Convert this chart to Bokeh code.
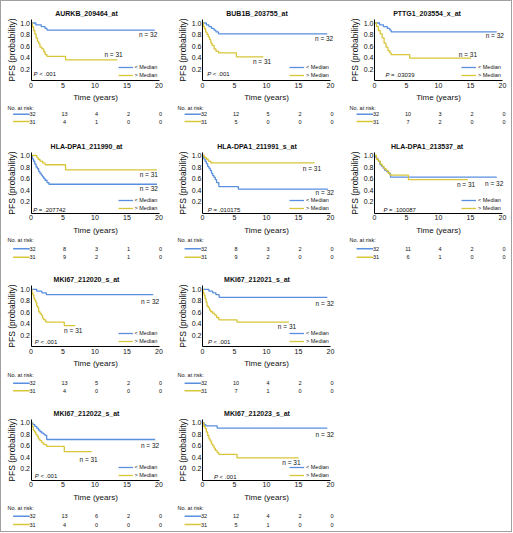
from bokeh.plotting import figure
from bokeh.models import Range1d, FixedTicker, NumeralTickFormatter, Label, Legend, LegendItem, Spacer, ColumnDataSource
from bokeh.layouts import row, column
from bokeh.embed import file_html
from bokeh.resources import INLINE
from bokeh.core.properties import value

FONT = "Liberation Sans"
BLUE = "#5a8fe0"
YELLOW = "#d8c53a"
TXT = "#111111"

# ---------------- data ----------------
titles = ["AURKB_209464_at", "BUB1B_203755_at", "PTTG1_203554_x_at",
          "HLA-DPA1_211990_at", "HLA-DPA1_211991_s_at", "HLA-DPA1_213537_at",
          "MKI67_212020_s_at", "MKI67_212021_s_at",
          "MKI67_212022_s_at", "MKI67_212023_s_at"]
p_values = ["< .001", "< .001", "= .03039", "= .207742", "= .010175", "= .100087",
            "< .001", "< .001", "< .001", "< .001"]
n_blue = [32] * 10
n_yellow = [31] * 10

blue_times = [
    [0, 0.75, 1.6, 2.2, 2.5, 19.35],
    [0, 0.6, 1.0, 1.4, 1.8, 2.1, 2.5, 19.5],
    [0, 0.8, 1.4, 2.0, 2.4, 2.6, 19.1],
    [0, 0.2, 0.4, 0.6, 0.8, 1.0, 1.2, 1.4, 1.6, 1.8, 2.0, 2.2, 2.5, 2.8, 19.7],
    [0, 0.2, 0.4, 0.6, 0.8, 1.0, 1.2, 1.4, 1.6, 1.8, 2.0, 2.2, 2.55, 5.6, 19.6],
    [0, 0.15, 0.35, 0.6, 0.85, 1.1, 1.35, 1.6, 1.9, 2.2, 2.5, 19.1],
    [0, 0.9, 1.7, 2.4, 19.1],
    [0, 1.0, 1.6, 2.1, 2.6, 19.5],
    [0, 0.3, 0.6, 0.9, 1.15, 1.4, 1.7, 2.0, 2.2, 2.45, 19.4],
    [0, 0.25, 0.5, 2.3, 19.5],
]
blue_surv = [
    [1, 0.969, 0.938, 0.906, 0.875, 0.875],
    [1, 0.969, 0.938, 0.906, 0.875, 0.844, 0.8125, 0.8125],
    [1, 0.969, 0.938, 0.906, 0.875, 0.844, 0.844],
    [1, 0.94, 0.9, 0.85, 0.8, 0.77, 0.72, 0.69, 0.66, 0.63, 0.6, 0.57, 0.53, 0.5, 0.5],
    [1, 0.94, 0.9, 0.86, 0.81, 0.78, 0.74, 0.69, 0.65, 0.62, 0.58, 0.53, 0.46, 0.415, 0.415],
    [1, 0.97, 0.94, 0.9, 0.84, 0.81, 0.78, 0.74, 0.72, 0.69, 0.625, 0.625],
    [1, 0.969, 0.938, 0.906, 0.906],
    [1, 0.969, 0.938, 0.906, 0.86, 0.86],
    [1, 0.969, 0.938, 0.906, 0.875, 0.844, 0.82, 0.8, 0.78, 0.71, 0.71],
    [1, 0.969, 0.945, 0.906, 0.906],
]
yellow_times = [
    [0, 0.2, 0.4, 0.6, 0.8, 1.0, 1.2, 1.4, 1.7, 2.0, 2.2, 2.5, 5.4, 13.5],
    [0, 0.15, 0.3, 0.5, 0.7, 0.9, 1.1, 1.3, 1.5, 1.8, 2.1, 2.5, 5.3, 9.5],
    [0, 0.3, 0.6, 0.9, 1.2, 1.5, 1.8, 2.1, 2.4, 2.6, 5.5, 15.1],
    [0, 0.9, 1.1, 1.4, 1.8, 2.2, 5.4, 19.7],
    [0, 0.3, 0.6, 0.9, 1.3, 17.5],
    [0, 0.3, 0.6, 0.9, 1.2, 1.5, 1.8, 2.1, 2.4, 5.3, 14.6],
    [0, 0.15, 0.3, 0.45, 0.6, 0.75, 0.9, 1.05, 1.2, 1.4, 1.6, 1.8, 2.0, 2.3, 5.2, 6.9],
    [0, 0.1, 0.25, 0.4, 0.55, 0.7, 0.9, 1.1, 1.3, 1.6, 1.9, 2.2, 2.55, 5.4, 13.5],
    [0, 0.15, 0.35, 0.55, 0.75, 0.95, 1.15, 1.4, 1.7, 2.0, 2.45, 5.2, 9.5],
    [0, 0.2, 0.4, 0.6, 0.8, 1.0, 1.2, 1.4, 1.6, 1.8, 2.0, 2.3, 2.55, 5.4, 15.0],
]
yellow_surv = [
    [1.0, 0.935, 0.87, 0.81, 0.74, 0.68, 0.645, 0.58, 0.55, 0.50, 0.45, 0.42, 0.36, 0.36],
    [1, 0.94, 0.9, 0.84, 0.8, 0.76, 0.71, 0.65, 0.61, 0.55, 0.51, 0.48, 0.41, 0.41],
    [1, 0.94, 0.87, 0.81, 0.74, 0.65, 0.58, 0.52, 0.48, 0.45, 0.39, 0.39],
    [1, 0.968, 0.935, 0.903, 0.871, 0.839, 0.75, 0.75],
    [1, 0.968, 0.935, 0.903, 0.871, 0.871],
    [1, 0.935, 0.9, 0.85, 0.81, 0.77, 0.74, 0.7, 0.66, 0.58, 0.58],
    [1, 0.94, 0.9, 0.84, 0.81, 0.77, 0.71, 0.68, 0.61, 0.58, 0.55, 0.5, 0.47, 0.43, 0.37, 0.37],
    [1, 0.94, 0.9, 0.84, 0.78, 0.71, 0.68, 0.64, 0.61, 0.58, 0.55, 0.51, 0.47, 0.43, 0.43],
    [1, 0.935, 0.87, 0.84, 0.8, 0.77, 0.72, 0.69, 0.65, 0.62, 0.59, 0.5, 0.5],
    [1, 0.94, 0.9, 0.84, 0.78, 0.72, 0.68, 0.63, 0.6, 0.56, 0.52, 0.48, 0.45, 0.39, 0.39],
]
risk_times = [0, 5, 10, 15, 20]
risk_blue = [[32, 13, 4, 2, 0], [32, 12, 5, 2, 0], [32, 10, 3, 2, 0], [32, 8, 3, 1, 0],
             [32, 8, 3, 2, 0], [32, 11, 4, 2, 0], [32, 13, 5, 2, 0], [32, 10, 4, 2, 0],
             [32, 13, 6, 2, 0], [32, 12, 4, 2, 0]]
risk_yellow = [[31, 4, 1, 0, 0], [31, 5, 0, 0, 0], [31, 7, 2, 0, 0], [31, 9, 2, 1, 0],
               [31, 9, 2, 0, 0], [31, 6, 1, 0, 0], [31, 4, 0, 0, 0], [31, 7, 1, 0, 0],
               [31, 4, 0, 0, 0], [31, 5, 1, 0, 0]]
y_ticks = [0.2, 0.4, 0.6, 0.8, 1.0]

# ---------------- annotation placement (layout only) ----------------
n_blue_pos = [(18.3, 0.8), (19.0, 0.73), (18.8, 0.775), (18.4, 0.42), (19.1, 0.36),
              (18.7, 0.51), (18.6, 0.78), (19.1, 0.75), (18.6, 0.61), (19.1, 0.8)]
n_yellow_pos = [(12.9, 0.45), (9.3, 0.33), (14.6, 0.45), (18.4, 0.67), (17.1, 0.78),
                (14.3, 0.5), (6.6, 0.29), (13.2, 0.36), (9.0, 0.37), (13.9, 0.31)]
p_pos = [(0.4, 0.12), (0.73, 0.12), (1.7, 0.10), (0.35, 0.06), (0.83, 0.05),
         (1.4, 0.06), (0.6, 0.08), (0.85, 0.09), (0.6, 0.07), (1.8, 0.05)]

COL_W = [170, 171, 169]              # panel widths (px), inside a 1px frame
ROW_H = [132, 133, 133, 132]         # panel heights (px)
ORIGIN_X = [29.5, 31, 32]            # px from panel left where t = 0
PX_PER_YEAR = 6.4
ZERO_Y = [79, 79.5, 80.3, 80.8]      # px from panel top where survival = 0
PX_PER_UNIT = 57.5
TOP = [16, 17, 17, 18]               # title strip height
Y_TOP = 1.06
RISK_ROWS_PX = [(106, 112.8, 120), (106.5, 115.3, 123.7), (108, 116.7, 124.3), (108, 116.7, 125)]
NO_AT_RISK_PX = [6, 6, 7]            # px from panel left
KEY_X = (-2.8, -0.2)


def panel(i, r, c):
    W, H, X0, Z = COL_W[c], ROW_H[r], ORIGIN_X[c], ZERO_Y[r]

    def to_y(px_from_top):
        return (Z - px_from_top) / PX_PER_UNIT

    p = figure(width=W, height=H,
               x_range=Range1d(-X0 / PX_PER_YEAR, (W - X0) / PX_PER_YEAR),
               y_range=Range1d(to_y(H), to_y(TOP[r])),
               output_backend="svg", toolbar_location=None, title=titles[i],
               min_border_left=0, min_border_right=0, min_border_top=TOP[r], min_border_bottom=0)
    p.outline_line_color = None
    p.grid.visible = False
    p.background_fill_color = "white"
    p.border_fill_color = "white"
    p.title.text_font = FONT
    p.title.text_font_size = "7px"
    p.title.text_font_style = "bold"
    p.title.text_color = TXT
    p.title.align = "center"
    p.title.standoff = 2
    p.title.offset = X0 + 10 * PX_PER_YEAR - W / 2

    p.xaxis.ticker = FixedTicker(ticks=risk_times)
    p.yaxis.ticker = FixedTicker(ticks=y_ticks)
    p.yaxis.formatter = NumeralTickFormatter(format="0.0")
    p.xaxis.axis_label = "Time (years)"
    p.yaxis.axis_label = "PFS (probability)"
    p.xaxis.fixed_location = 0
    p.yaxis.fixed_location = 0
    p.xaxis.bounds = (0, 20)
    p.yaxis.bounds = (0, Y_TOP)
    for ax in (p.xaxis[0], p.yaxis[0]):
        ax.major_tick_out = 0
        ax.major_tick_in = 0
        ax.minor_tick_out = 0
        ax.minor_tick_in = 0
        ax.axis_line_color = "black"
        ax.axis_line_width = 1
        ax.major_label_text_font = FONT
        ax.major_label_text_font_size = "7px"
        ax.major_label_text_color = TXT
        ax.axis_label_text_font = FONT
        ax.axis_label_text_font_style = "normal"
        ax.axis_label_text_color = TXT
    p.xaxis.major_label_standoff = 2
    p.xaxis.axis_label_standoff = 2
    p.xaxis.axis_label_text_font_size = "8px"
    p.yaxis.major_label_standoff = 1
    p.yaxis.axis_label_standoff = 1
    p.yaxis.axis_label_text_font_size = "8.5px"

    rb = p.step(x=blue_times[i], y=blue_surv[i], mode="after", line_color=BLUE, line_width=1.3)
    ry = p.step(x=yellow_times[i], y=yellow_surv[i], mode="after", line_color=YELLOW, line_width=1.3)

    leg = Legend(items=[LegendItem(label="< Median", renderers=[rb]),
                        LegendItem(label="> Median", renderers=[ry])],
                 location=(X0 + 87, H - Z + 1),
                 label_text_font=FONT, label_text_font_size="5.5px", label_text_color=TXT,
                 glyph_width=15, glyph_height=8, label_height=8, label_standoff=2,
                 spacing=0, padding=0, margin=0, border_line_color=None,
                 background_fill_alpha=0)
    p.add_layout(leg)

    for (x, y), n in ((n_blue_pos[i], n_blue[i]), (n_yellow_pos[i], n_yellow[i])):
        p.add_layout(Label(x=x, y=y, text=f"n = {n}", text_align="center", text_baseline="middle",
                           text_font=FONT, text_font_size="6.5px", text_color=TXT))
    px, py = p_pos[i]
    p.add_layout(Label(x=px, y=py, text="P", text_align="left", text_baseline="middle",
                       text_font=FONT, text_font_size="6px", text_font_style="italic",
                       text_color=TXT))
    p.add_layout(Label(x=px, y=py, x_offset=5.6, text=p_values[i], text_align="left",
                       text_baseline="middle", text_font=FONT, text_font_size="6px",
                       text_color=TXT))

    # number-at-risk table
    y_hdr, y_b, y_y = (to_y(v) for v in RISK_ROWS_PX[r])
    p.text(x=[(NO_AT_RISK_PX[c] - X0) / PX_PER_YEAR], y=[y_hdr], text=["No. at risk:"],
           text_font=value(FONT), text_font_size=value("5.5px"), text_align="left",
           text_baseline="middle", text_color=TXT)
    for yy, vals, col in ((y_b, risk_blue[i], BLUE), (y_y, risk_yellow[i], YELLOW)):
        src = ColumnDataSource(dict(x=risk_times, y=[yy] * len(vals), t=[str(v) for v in vals]))
        p.text(x="x", y="y", text="t", source=src, x_offset=1.5, text_font=value(FONT),
               text_font_size=value("5.5px"), text_align="center", text_baseline="middle",
               text_color=TXT)
        p.segment(x0=[KEY_X[0]], y0=[yy], x1=[KEY_X[1]], y1=[yy], line_color=col, line_width=1.4)
    return p


grid_pos = [(0, 0), (0, 1), (0, 2), (1, 0), (1, 1), (1, 2), (2, 0), (2, 1), (3, 0), (3, 1)]

rows = []
for r in range(4):
    cells = []
    for c in range(3):
        idx = [k for k, rc in enumerate(grid_pos) if rc == (r, c)]
        if idx:
            cells.append(panel(idx[0], r, c))
        else:
            cells.append(Spacer(width=COL_W[c], height=ROW_H[r]))
    rows.append(row(*cells, spacing=0))

layout = column(*rows, spacing=0, styles={"border": "1px solid #a0a0a0"})

open("out.html", "w").write(file_html(layout, INLINE))
